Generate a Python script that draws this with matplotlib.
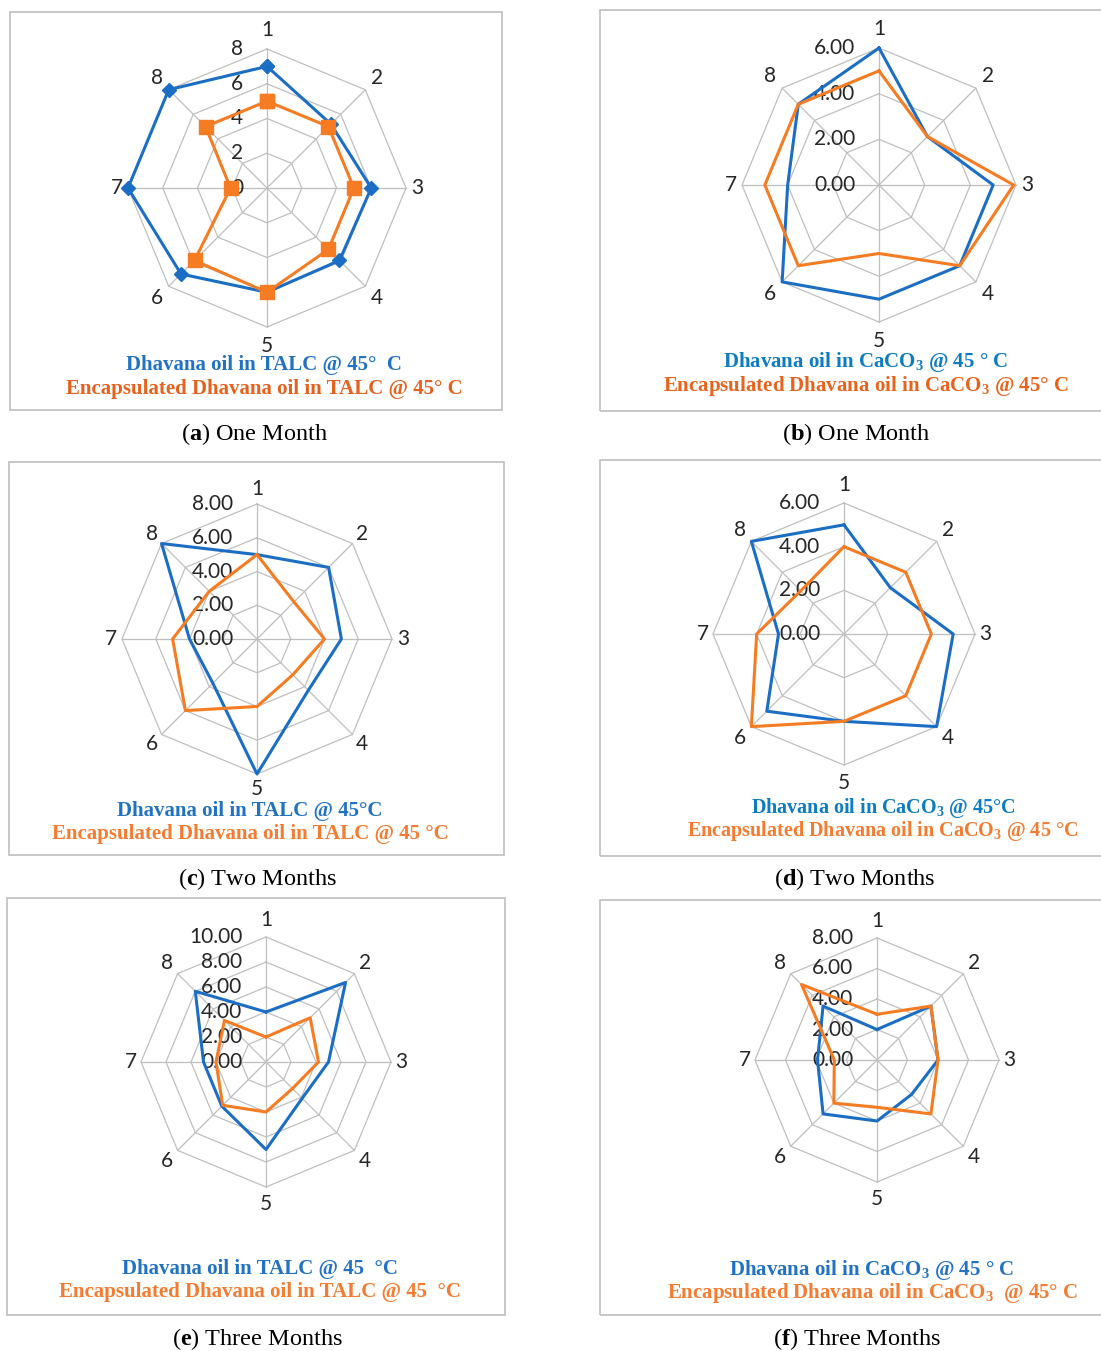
import matplotlib.pyplot as plt
import matplotlib.patches as mpatches
import numpy as np

plt.rcParams['mathtext.fontset'] = 'custom'
plt.rcParams['mathtext.rm'] = 'Liberation Serif'
plt.rcParams['mathtext.bf'] = 'Liberation Serif:bold'

# ---- data ----
cats = ['1', '2', '3', '4', '5', '6', '7', '8']

a_blue = [7.0, 5.2, 6.0, 5.9, 6.0, 7.0, 8.0, 8.0]
a_orange = [5.0, 5.0, 5.0, 5.0, 6.0, 5.9, 2.1, 5.0]
b_blue = [6.0, 3.0, 5.0, 5.0, 5.0, 6.0, 4.0, 5.0]
b_orange = [5.0, 3.0, 5.9, 5.0, 3.0, 5.0, 5.0, 5.0]
c_blue = [5.0, 6.0, 5.0, 4.3, 8.0, 3.7, 4.0, 8.0]
c_orange = [5.0, 3.1, 4.0, 3.0, 4.0, 6.0, 5.0, 4.0]
d_blue = [5.0, 3.0, 5.0, 6.0, 4.0, 5.0, 3.0, 6.0]
d_orange = [4.0, 4.0, 4.0, 4.0, 4.0, 6.0, 4.0, 2.8]
e_blue = [4.0, 9.0, 5.0, 4.1, 7.0, 5.0, 5.0, 8.0]
e_orange = [2.0, 5.0, 4.2, 3.0, 4.0, 4.9, 4.0, 4.7]
f_blue = [2.0, 5.0, 4.0, 3.2, 4.0, 5.0, 3.9, 5.0]
f_orange = [3.0, 5.0, 4.0, 5.0, 3.1, 4.0, 2.8, 7.0]

deg = '\u00b0'
a_leg = ['Dhavana oil in TALC @ 45' + deg + '  C',
         'Encapsulated Dhavana oil in TALC @ 45' + deg + ' C']
b_leg = [r'Dhavana oil in CaCO$_\mathbf{3}$ @ 45 ' + deg + ' C',
         r'Encapsulated Dhavana oil in CaCO$_\mathbf{3}$ @ 45' + deg + ' C']
c_leg = ['Dhavana oil in TALC @ 45' + deg + 'C',
         'Encapsulated Dhavana oil in TALC @ 45 ' + deg + 'C']
d_leg = [r'Dhavana oil in CaCO$_\mathbf{3}$ @ 45' + deg + 'C',
         r'Encapsulated Dhavana oil in CaCO$_\mathbf{3}$ @ 45 ' + deg + 'C']
e_leg = ['Dhavana oil in TALC @ 45  ' + deg + 'C',
         'Encapsulated Dhavana oil in TALC @ 45  ' + deg + 'C']
f_leg = [r'Dhavana oil in CaCO$_\mathbf{3}$ @ 45 ' + deg + ' C',
         r'Encapsulated Dhavana oil in CaCO$_\mathbf{3}$  @ 45' + deg + ' C']

captions = [r'($\mathbf{a}$) One Month', r'($\mathbf{b}$) One Month',
            r'($\mathbf{c}$) Two Months', r'($\mathbf{d}$) Two Months',
            r'($\mathbf{e}$) Three Months', r'($\mathbf{f}$) Three Months']

W, H = 1101, 1351
fig = plt.figure(figsize=(W / 100, H / 100), dpi=100)

GRID = '#BFBFBF'
BLUE = '#1B6EC4'
ORANGE = '#F57C22'


def fx(x):
    return x / W


def fy(y):
    return 1 - y / H


def box(x0, y0, x1, y1):
    fig.add_artist(mpatches.Rectangle((fx(x0), fy(y1)), (x1 - x0) / W, (y1 - y0) / H,
                                      transform=fig.transFigure, fill=False,
                                      ec=GRID, lw=1.2))


def radar(cx, cy, R, rmax, step, blue, orange, fmt, markers=False, lab_r=1.14):
    ax = fig.add_axes([fx(cx - R), fy(cy + R), 2 * R / W, 2 * R / H], projection='polar')
    ax.set_theta_zero_location('N')
    ax.set_theta_direction(-1)
    ax.set_ylim(0, rmax)
    ax.axis('off')
    theta = np.arange(len(cats)) * 2 * np.pi / len(cats)
    tc = np.append(theta, theta[0])
    for r in np.arange(step, rmax + 0.01, step):
        ax.plot(tc, [r] * len(tc), color=GRID, lw=0.9, zorder=1, clip_on=False)
    for t in theta:
        ax.plot([t, t], [0, rmax], color=GRID, lw=0.9, zorder=1, clip_on=False)
    for r in np.arange(0, rmax + 0.01, step):
        ax.annotate(fmt % r, xy=(0, r), xytext=(-17, 0), textcoords='offset points',
                    ha='right', va='center', fontsize=15, family='Lato',
                    color='#262626', zorder=2)
    for t, c in zip(theta, cats):
        k = 1.08 + (lab_r - 1.08) * abs(np.cos(t))
        ax.text(t, rmax * k, c, ha='center', va='center',
                fontsize=15, family='Lato', color='#262626')
    bv = np.append(blue, blue[0])
    ov = np.append(orange, orange[0])
    if markers:
        ax.plot(tc, bv, color=BLUE, lw=2.2, marker='D', ms=7, zorder=3, clip_on=False)
        ax.plot(tc, ov, color=ORANGE, lw=2.2, marker='s', ms=10, zorder=4, clip_on=False)
    else:
        ax.plot(tc, bv, color=BLUE, lw=2.2, zorder=3, clip_on=False)
        ax.plot(tc, ov, color=ORANGE, lw=2.2, zorder=4, clip_on=False)
    return ax


def legend(x, y1, y2, lines, cb, co, size=15):
    fig.text(fx(x), fy(y1), lines[0], ha='center', va='center', fontsize=size,
             family='Liberation Serif', weight='bold', color=cb)
    fig.text(fx(x), fy(y2), lines[1], ha='center', va='center', fontsize=size,
             family='Liberation Serif', weight='bold', color=co)


# boxes
box(10, 12, 502, 410)
box(600, 10, 1112, 411)
box(9, 462, 504, 855)
box(600, 460, 1112, 856)
box(7, 898, 505, 1315)
box(600, 900, 1112, 1315)

radar(267, 188, 139, 8, 2, a_blue, a_orange, '%d', markers=True)
radar(879, 185, 137, 6, 2, b_blue, b_orange, '%.2f')
radar(257, 639, 135, 8, 2, c_blue, c_orange, '%.2f', lab_r=1.11)
radar(844, 634, 131, 6, 2, d_blue, d_orange, '%.2f')
radar(266, 1062, 125, 10, 2, e_blue, e_orange, '%.2f')
radar(877, 1060, 122, 8, 2, f_blue, f_orange, '%.2f')

legend(264, 365, 389, a_leg, '#2272C3', '#E5621E')
legend(866, 362, 386, b_leg, '#0E7CC3', '#E8641E')
legend(250, 811, 834, c_leg, '#2272C3', '#F47B30')
legend(883, 808, 831, d_leg, '#0E7CC3', '#F47B30', size=14.5)
legend(260, 1269, 1292, e_leg, '#2272C3', '#F47B30')
legend(872, 1270, 1293, f_leg, '#2272C3', '#F47B30')

cap_pos = [(255, 434), (856, 434), (257, 879), (855, 879), (257, 1339), (857, 1339)]
for (x, y), txt in zip(cap_pos, captions):
    fig.text(fx(x), fy(y), txt, ha='center', va='center', fontsize=17.5,
             family='Liberation Serif', color='black')

fig.savefig('out.png', dpi=100)
